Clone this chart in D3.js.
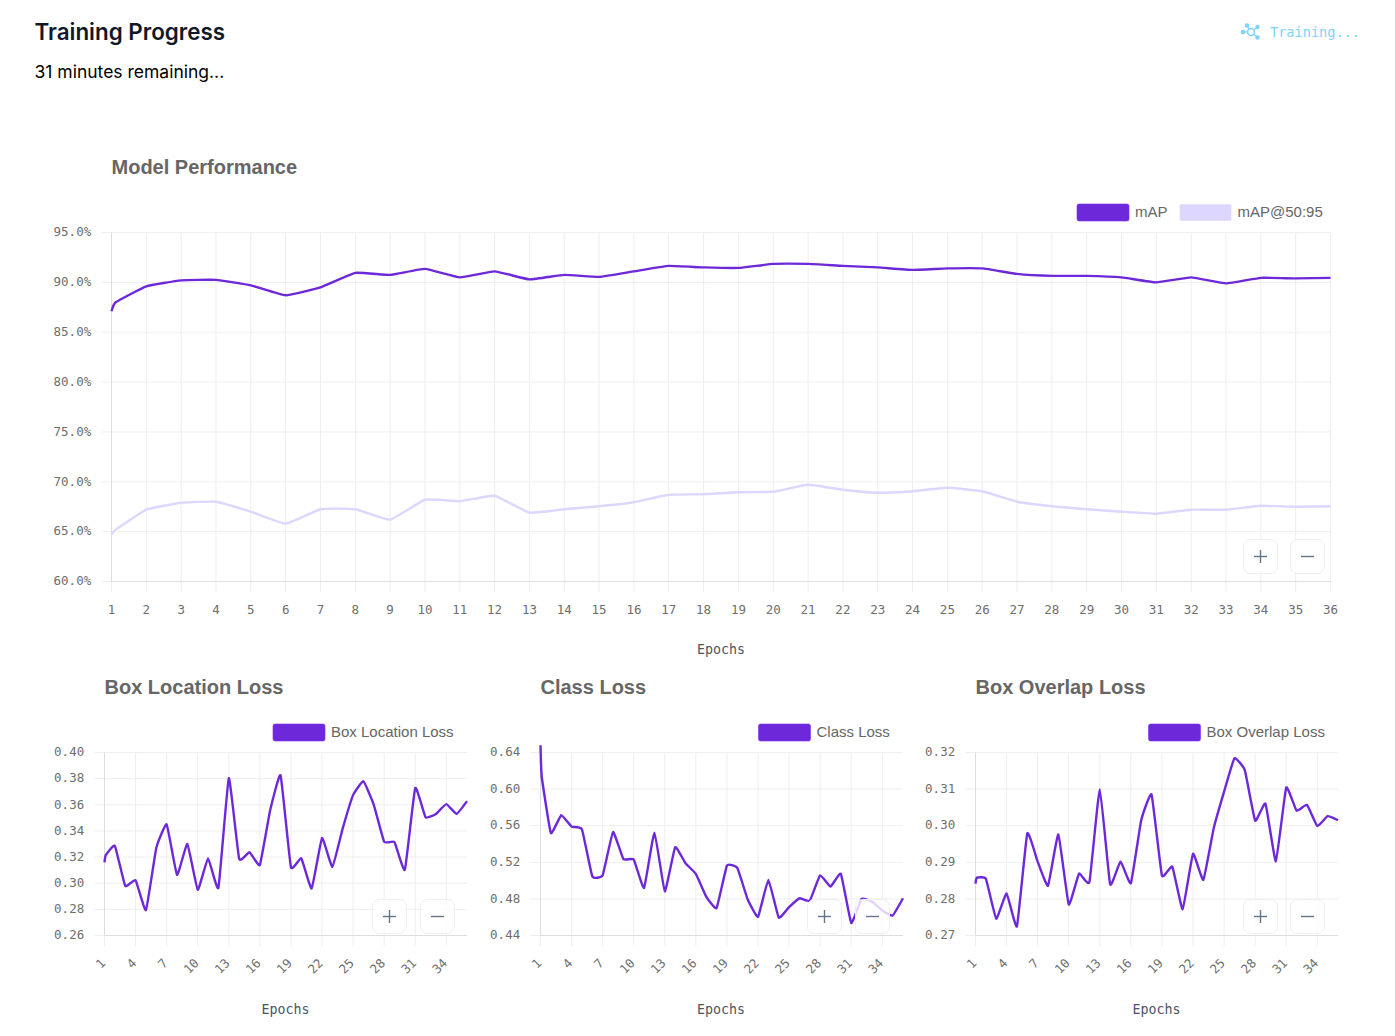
<!DOCTYPE html>
<html>
<head>
<meta charset="utf-8">
<script src="https://cdn.jsdelivr.net/npm/d3@7"></script>
<style>
  html, body { margin: 0; padding: 0; background: #fff; overflow: hidden; }
  svg { display: block; }
  .tick text { font-family: "DejaVu Sans Mono", monospace; font-size: 12.5px; fill: #6e6e6e; }
  .chart-title { font-family: "Liberation Sans", sans-serif; font-weight: 700; font-size: 20px; fill: #666; }
  .legend-text { font-family: "Liberation Sans", sans-serif; font-size: 15px; fill: #666; }
  .axis-title { font-family: "DejaVu Sans Mono", monospace; font-size: 13.3px; fill: #4a5568; text-anchor: middle; }
</style>
</head>
<body>
<svg id="page" width="1396" height="1036"></svg>
<script>
// the curves jump right at the first epoch, so there is a second reading just after it
const epochs = [1, 1.12, 2, 3, 4, 5, 6, 7, 8, 9, 10, 11, 12, 13, 14, 15, 16, 17, 18, 19, 20, 21, 22, 23, 24, 25, 26, 27, 28, 29, 30, 31, 32, 33, 34, 35, 36]
const epochTicks = d3.range(1, 37)
const sparseTicks = epochTicks.filter(d => (d - 1) % 3 === 0)

const mapValues = [87.1, 88.0, 89.6, 90.2, 90.25, 89.7, 88.7, 89.5, 90.95, 90.75, 91.35, 90.5, 91.1, 90.3, 90.75, 90.55, 91.1, 91.65, 91.5, 91.45, 91.85, 91.85, 91.65, 91.5, 91.25, 91.4, 91.4, 90.85, 90.65, 90.65, 90.5, 90.0, 90.5, 89.9, 90.45, 90.4, 90.45]
const map5095Values = [64.7, 65.2, 67.2, 67.9, 68.0, 67.0, 65.8, 67.25, 67.25, 66.2, 68.2, 68.05, 68.6, 66.9, 67.25, 67.55, 67.95, 68.7, 68.75, 68.95, 69.0, 69.7, 69.2, 68.9, 69.05, 69.4, 69.05, 68.0, 67.55, 67.25, 67.0, 66.8, 67.2, 67.2, 67.6, 67.5, 67.55]
const boxLocValues = [0.316, 0.3215, 0.3286, 0.298, 0.3023, 0.2794, 0.327, 0.345, 0.3064, 0.33, 0.295, 0.319, 0.2965, 0.3804, 0.3187, 0.3238, 0.314, 0.356, 0.3825, 0.3123, 0.319, 0.296, 0.3345, 0.3125, 0.342, 0.3674, 0.378, 0.36, 0.3317, 0.3314, 0.3103, 0.3728, 0.3505, 0.353, 0.3605, 0.353, 0.3628]
const classValues = [0.648, 0.6135, 0.552, 0.5716, 0.559, 0.556, 0.5047, 0.5058, 0.553, 0.5236, 0.523, 0.492, 0.5524, 0.4884, 0.5364, 0.519, 0.5073, 0.4825, 0.47, 0.5164, 0.5138, 0.4796, 0.4604, 0.5007, 0.4596, 0.471, 0.4807, 0.478, 0.5058, 0.4935, 0.5073, 0.4538, 0.48, 0.477, 0.4673, 0.4618, 0.4807]
const boxOverlapValues = [0.2842, 0.2858, 0.2855, 0.2746, 0.2815, 0.2725, 0.2979, 0.2902, 0.2836, 0.2976, 0.2785, 0.2869, 0.2846, 0.31, 0.284, 0.2902, 0.2843, 0.3015, 0.3085, 0.2864, 0.2888, 0.2772, 0.2923, 0.2852, 0.2993, 0.3093, 0.3184, 0.3152, 0.3014, 0.306, 0.2903, 0.3104, 0.3041, 0.3057, 0.2999, 0.3026, 0.3015]

const mapTicks = [60, 65, 70, 75, 80, 85, 90, 95]
const boxLocTicks = [0.26, 0.28, 0.30, 0.32, 0.34, 0.36, 0.38, 0.40]
const classTicks = [0.44, 0.48, 0.52, 0.56, 0.60, 0.64]
const boxOverlapTicks = [0.27, 0.28, 0.29, 0.30, 0.31, 0.32]

const purple = '#6d28d9'
const lilac = '#ddd6fe'
const gridColor = '#eeeeee'

const svg = d3.select('#page')

const addHeader = () => {
  svg.append('text').attr('x', 34.5).attr('y', 40)
    .style('font', '600 22.4px Inter, sans-serif').style('fill', '#111827')
    .text('Training Progress')
  svg.append('text').attr('x', 34.5).attr('y', 78)
    .style('font', '400 17.5px Inter, sans-serif').style('fill', '#000')
    .text('31 minutes remaining...')

  const icon = svg.append('g').attr('stroke', '#7dd3fc').attr('fill', '#7dd3fc').attr('stroke-width', 1.2)
  const hub = [1251, 32]
  const spokes = [[1243, 32], [1247, 25.5], [1257.5, 27], [1257.5, 37.5]]
  spokes.forEach(s => {
    icon.append('line').attr('x1', hub[0]).attr('y1', hub[1]).attr('x2', s[0]).attr('y2', s[1])
    icon.append('circle').attr('cx', s[0]).attr('cy', s[1]).attr('r', 1.6)
  })
  icon.append('circle').attr('cx', hub[0]).attr('cy', hub[1]).attr('r', 3.4).attr('fill', '#fff').attr('stroke-width', 1.5)

  svg.append('text').attr('x', 1270).attr('y', 37)
    .style('font', '13.6px "DejaVu Sans Mono", monospace').style('fill', '#7dd3fc')
    .text('Training...')

  svg.append('line').attr('x1', 1395.5).attr('x2', 1395.5).attr('y1', 0).attr('y2', 1036)
    .attr('stroke', '#d4d4d4')
}

const zoomButton = (g, bx, by, isPlus) => {
  g.append('rect').attr('x', bx).attr('y', by).attr('width', 34).attr('height', 34).attr('rx', 7)
    .attr('fill', 'rgba(255,255,255,0.8)').attr('stroke', '#eeeeee')
  const cx = bx + 17, cy = by + 17
  g.append('line').attr('x1', cx - 6.5).attr('x2', cx + 6.5).attr('y1', cy).attr('y2', cy)
    .attr('stroke', '#64748b').attr('stroke-width', 1.4)
  if (isPlus) {
    g.append('line').attr('x1', cx).attr('x2', cx).attr('y1', cy - 6.5).attr('y2', cy + 6.5)
      .attr('stroke', '#64748b').attr('stroke-width', 1.4)
  }
}

const drawChart = (c) => {
  const width = c.right - c.left
  const height = c.bottom - c.top
  const g = svg.append('g')

  const x = d3.scaleLinear().domain([1, 36]).range([c.left, c.right])
  const y = d3.scaleLinear().domain(d3.extent(c.yTicks)).range([c.bottom, c.top])

  g.append('text').attr('class', 'chart-title').attr('x', c.titleX).attr('y', c.titleY).text(c.title)

  // grid
  g.append('g').attr('transform', `translate(${c.left},0)`)
    .call(d3.axisLeft(y).offset(0).tickValues(c.yTicks).tickSize(-width).tickFormat(''))
    .call(a => a.select('.domain').remove())
    .call(a => a.selectAll('line').attr('stroke', gridColor))
  g.append('g').attr('transform', `translate(0,${c.top})`)
    .call(d3.axisBottom(x).offset(0).tickValues(c.xTicks).tickSize(height).tickFormat(''))
    .call(a => a.select('.domain').remove())
    .call(a => a.selectAll('line').attr('stroke', gridColor))

  // axes
  g.append('g').attr('transform', `translate(${c.left},0)`)
    .call(d3.axisLeft(y).offset(0).tickValues(c.yTicks).tickSize(10).tickPadding(10.3).tickFormat(c.yFormat))
    .call(a => a.select('.domain').remove())
    .call(a => a.selectAll('line').attr('stroke', gridColor))
    .call(a => a.selectAll('text').attr('dy', '0.3em'))
  const xAxis = g.append('g').attr('transform', `translate(0,${c.bottom})`)
    .call(d3.axisBottom(x).offset(0).tickValues(c.xTicks).tickSize(11).tickPadding(13).tickFormat(d3.format('d')))
    .call(a => a.select('.domain').remove())
    .call(a => a.selectAll('line').attr('stroke', gridColor))
  if (c.rotate) {
    xAxis.selectAll('text')
      .attr('text-anchor', 'end').attr('x', 0).attr('y', 0).attr('dy', '0.32em')
      .attr('transform', 'translate(-1,25.5) rotate(-45)')
  }
  g.append('line').attr('x1', c.left).attr('x2', c.left).attr('y1', c.top).attr('y2', c.bottom).attr('stroke', '#dddddd')
  g.append('line').attr('x1', c.left).attr('x2', c.right).attr('y1', c.bottom).attr('y2', c.bottom).attr('stroke', '#dddddd')

  g.append('text').attr('class', 'axis-title').attr('x', c.axisTitleX).attr('y', c.axisTitleY).text('Epochs')

  // lines, last series first so the dark one sits on top
  const line = d3.line().x((d, i) => x(epochs[i])).y(d => y(d)).curve(d3.curveCardinal.tension(0.65))
  c.series.slice().reverse().forEach(s => {
    g.append('path').datum(s.values)
      .attr('d', line).attr('fill', 'none').attr('stroke', s.color).attr('stroke-width', 2.4)
  })

  // legend
  c.series.forEach(s => {
    g.append('rect').attr('x', s.legendX).attr('y', c.legendY).attr('width', 52).attr('height', 17).attr('rx', 2)
      .attr('fill', s.color).attr('stroke', d3.color(s.color).brighter(0.4)).attr('stroke-width', 0.6)
    g.append('text').attr('class', 'legend-text').attr('x', s.legendX + 58).attr('y', c.legendY + 13).text(s.name)
  })

  zoomButton(g, c.plusX, c.buttonY, true)
  zoomButton(g, c.minusX, c.buttonY, false)
}

addHeader()

drawChart({
  title: 'Model Performance', titleX: 111.5, titleY: 174,
  left: 111.5, right: 1330.5, top: 232.5, bottom: 581.5,
  xTicks: epochTicks, yTicks: mapTicks, yFormat: d => d.toFixed(1) + '%',
  axisTitleX: 721, axisTitleY: 654, legendY: 204,
  plusX: 1243.5, minusX: 1290.5, buttonY: 539.5,
  series: [
    { name: 'mAP', values: mapValues, color: purple, legendX: 1077 },
    { name: 'mAP@50:95', values: map5095Values, color: lilac, legendX: 1179.5 }
  ]
})

const smallCharts = [
  { title: 'Box Location Loss', left: 104.5, values: boxLocValues, yTicks: boxLocTicks, legendX: 273, plusX: 372.5, minusX: 420.5, axisTitleX: 285.5 },
  { title: 'Class Loss', left: 540.5, values: classValues, yTicks: classTicks, legendX: 758.5, plusX: 807.5, minusX: 855.5, axisTitleX: 721 },
  { title: 'Box Overlap Loss', left: 975.5, values: boxOverlapValues, yTicks: boxOverlapTicks, legendX: 1148.5, plusX: 1243.5, minusX: 1290.5, axisTitleX: 1156.5 }
]

smallCharts.forEach(s => drawChart({
  title: s.title, titleX: s.left, titleY: 694,
  left: s.left, right: s.left + 362.5, top: 752.5, bottom: 935.5,
  xTicks: sparseTicks, yTicks: s.yTicks, yFormat: d3.format('.2f'), rotate: true,
  axisTitleX: s.axisTitleX, axisTitleY: 1014, legendY: 724,
  plusX: s.plusX, minusX: s.minusX, buttonY: 899.5,
  series: [{ name: s.title, values: s.values, color: purple, legendX: s.legendX }]
}))
</script>
</body>
</html>
